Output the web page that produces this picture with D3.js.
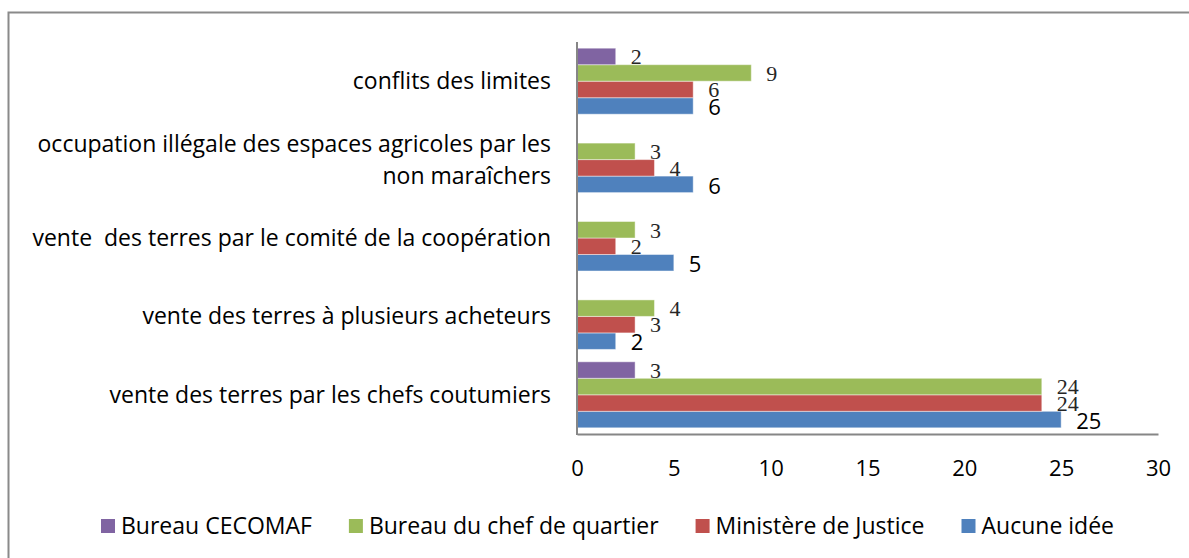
<!DOCTYPE html>
<html>
<head>
<meta charset="utf-8">
<script src="https://cdn.jsdelivr.net/npm/d3@7"></script>
<style>
  html, body { margin: 0; padding: 0; background: #fff; }
  svg { display: block; }
  text { font-variant-ligatures: none; }
  .cat { font-family: "Open Sans", sans-serif; font-size: 23px; fill: #000; white-space: pre; }
  .tick text { font-family: "Open Sans", sans-serif; font-size: 22px; fill: #000; }
  .lbl { font-family: "Liberation Serif", "DejaVu Serif", serif; font-size: 22px; fill: #262626; }
  .lbl-big { font-family: "Open Sans", sans-serif; font-size: 22px; fill: #000; }
  .leg { font-family: "Open Sans", sans-serif; font-size: 23px; fill: #000; }
</style>
</head>
<body>
<svg id="chart" width="1189" height="558"></svg>
<script>
// categories, bottom to top (as in the original sheet)
var categories = [
    "vente des terres par les chefs coutumiers",
    "vente des terres à plusieurs acheteurs",
    "vente  des terres par le comité de la coopération",
    "occupation illégale des espaces agricoles par les\nnon maraîchers",
    "conflits des limites"
];
var seriesNames = ["Aucune idée", "Ministère de Justice", "Bureau du chef de quartier", "Bureau CECOMAF"];
var aucuneIdee = [25, 2, 5, 6, 6];
var ministereJustice = [24, 3, 2, 4, 6];
var chefQuartier = [24, 4, 3, 3, 9];
var bureauCecomaf = [3, null, null, null, 2];
var xTicks = [0, 5, 10, 15, 20, 25, 30];

var seriesValues = [aucuneIdee, ministereJustice, chefQuartier, bureauCecomaf];
var colors = ["#4F81BD", "#C0504D", "#9BBB59", "#8064A2"];

var svg = d3.select("#chart");

// outer frame (cut at right / bottom like the screenshot)
svg.append("path")
    .attr("d", "M8.5,558 V12.5 H1189")
    .attr("fill", "none")
    .attr("stroke", "#8a8a8a")
    .attr("stroke-width", 2);

var plotLeft = 577, plotRight = 1158, plotTop = 42, plotBottom = 434;

var x = d3.scaleLinear().domain([0, 30]).range([plotLeft, plotRight]);
var y = d3.scaleBand().domain(categories).range([plotBottom, plotTop]).paddingInner(0.158).paddingOuter(0.079);
// within a group the top bar is the last series
var ySub = d3.scaleBand().domain([3, 2, 1, 0]).range([0, y.bandwidth()]);

// bars
seriesValues.forEach(function(vals, s) {
    var g = svg.append("g");
    var rows = categories.map(function(c, i) { return {cat: c, v: vals[i]}; })
        .filter(function(d) { return d.v !== null; });

    g.selectAll("rect").data(rows).enter().append("rect")
        .attr("x", x(0))
        .attr("y", function(d) { return y(d.cat) + ySub(s); })
        .attr("width", function(d) { return x(d.v) - x(0); })
        .attr("height", ySub.bandwidth())
        .attr("fill", colors[s])
        .attr("stroke", "rgba(255,255,255,0.45)")
        .attr("stroke-width", 1);

    g.selectAll("text").data(rows).enter().append("text")
        .attr("class", s === 0 ? "lbl-big" : "lbl")
        .attr("x", function(d) { return x(d.v) + 15; })
        .attr("y", function(d) { return y(d.cat) + ySub(s) + ySub.bandwidth() + (s === 0 ? 1 : -0.5); })
        .text(function(d) { return d.v; });
});

// x axis
var xAxis = d3.axisBottom(x).tickValues(xTicks).tickSize(0).tickPadding(26);
var ax = svg.append("g").attr("transform", "translate(0," + plotBottom + ")").call(xAxis);
ax.select(".domain").attr("stroke", "#868686").attr("stroke-width", 2);

// y axis line
svg.append("line")
    .attr("x1", plotLeft).attr("x2", plotLeft)
    .attr("y1", plotTop).attr("y2", plotBottom + 1)
    .attr("stroke", "#868686").attr("stroke-width", 2);

// category labels
categories.forEach(function(c) {
    var lines = c.split("\n");
    var cy = y(c) + y.bandwidth() / 2;
    var lh = 32;
    var t = svg.append("text").attr("class", "cat").attr("text-anchor", "end");
    lines.forEach(function(line, k) {
        t.append("tspan")
            .attr("x", plotLeft - 26)
            .attr("y", cy + (k - (lines.length - 1) / 2) * lh)
            .attr("dy", "0.35em")
            .text(line);
    });
});

// legend, reversed order
var legOrder = [3, 2, 1, 0];
var lg = svg.append("g");
var lx = 101, ly = 526;
legOrder.forEach(function(s) {
    lg.append("rect")
        .attr("x", lx).attr("y", ly - 7)
        .attr("width", 14).attr("height", 14)
        .attr("fill", colors[s]);
    var t = lg.append("text")
        .attr("class", "leg")
        .attr("x", lx + 20).attr("y", ly)
        .attr("dy", "0.35em")
        .text(seriesNames[s]);
    lx += 20 + t.node().getComputedTextLength() + 37;
});
</script>
</body>
</html>
